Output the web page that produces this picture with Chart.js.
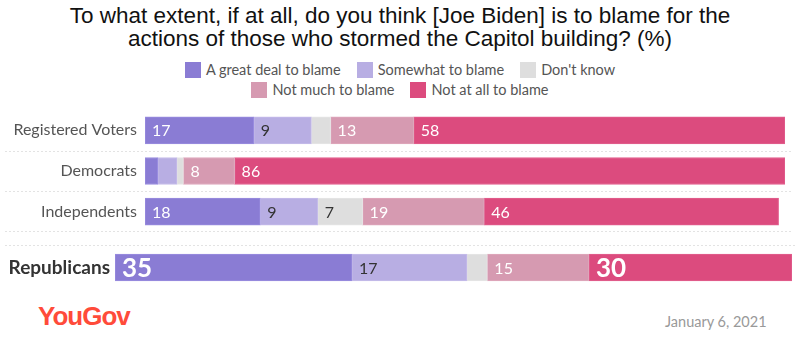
<!DOCTYPE html>
<html>
<head>
<meta charset="utf-8">
<script src="https://cdn.jsdelivr.net/npm/chart.js@4/dist/chart.umd.min.js"></script>
<style>
  body { margin: 0; background: #fff; }
  #wrap { position: relative; width: 800px; height: 350px; overflow: hidden; font-family: Lato, sans-serif; }
  #title { position: absolute; top: 4px; left: 0; width: 800px; text-align: center; font: 22.5px/23px "Liberation Sans", Arial, sans-serif; color: #111; }
  #legend { position: absolute; top: 61px; left: 140px; width: 520px; display: flex; flex-wrap: wrap; justify-content: center; font-size: 14.5px; color: #555; row-gap: 3px; }
  .item { display: flex; align-items: center; margin: 0 8px; line-height: 17px; }
  .box { width: 16px; height: 16px; margin-right: 5px; }
  #c1 { position: absolute; top: 110px; left: 0; }
  #c2 { position: absolute; top: 240px; left: 0; }
  #logo { position: absolute; top: 301px; left: 38px; font: bold 26px "Liberation Sans", Arial, sans-serif; color: #ff4b3a; letter-spacing: -1px; }
  #date { position: absolute; top: 313px; left: 665px; font-size: 14.5px; color: #999; }
</style>
</head>
<body>
<div id="wrap">
  <div id="title">To what extent, if at all, do you think [Joe Biden] is to blame for the<br>actions of those who stormed the Capitol building? (%)</div>
  <div id="legend"></div>
  <canvas id="c1" width="800" height="122"></canvas>
  <canvas id="c2" width="800" height="50"></canvas>
  <div id="logo">YouGov</div>
  <div id="date">January 6, 2021</div>
</div>
<script>
const groups = ['Registered Voters', 'Democrats', 'Independents'];
const seriesNames = ['A great deal to blame', 'Somewhat to blame', "Don't know", 'Not much to blame', 'Not at all to blame'];
const greatDeal = [17, 2, 18];
const somewhat = [9, 3, 9];
const dontKnow = [3, 1, 7];
const notMuch = [13, 8, 19];
const notAtAll = [58, 86, 46];
const repLabel = ['Republicans'];
const repValues = [35, 17, 3, 15, 30];

const colors = ['#8a7cd4', '#b8aee3', '#dedede', '#d69ab1', '#dc4b7e'];
const borders = ['#9a8ee0', '#c6bdea', '#e6e6e6', '#dfa9bd', '#e2608f'];
const labelColors = ['#fff', '#333', '#333', '#fff', '#fff'];

// html legend
const legend = document.getElementById('legend');
seriesNames.forEach((name, i) => {
  const el = document.createElement('div');
  el.className = 'item';
  el.innerHTML = '<span class="box" style="background:' + colors[i] + '"></span>' + name;
  legend.appendChild(el);
});

const valueLabels = {
  id: 'valueLabels',
  afterDatasetsDraw(chart) {
    const ctx = chart.ctx;
    const big = chart.options.bigLabels;
    chart.data.datasets.forEach((ds, i) => {
      chart.getDatasetMeta(i).data.forEach((bar, j) => {
        const v = ds.data[j];
        if (v < 5) return;
        const bold = big && (i === 0 || i === 4);
        ctx.save();
        ctx.font = bold ? 'bold 26px Lato' : '16px Lato';
        ctx.fillStyle = labelColors[i];
        ctx.textBaseline = 'middle';
        ctx.fillText(v, Math.min(bar.base, bar.x) + 7, bar.y + 1);
        ctx.restore();
      });
    });
  }
};

// dotted separators between rows, running under the labels too
const rowLines = {
  id: 'rowLines',
  beforeDatasetsDraw(chart) {
    const ctx = chart.ctx;
    const y = chart.scales.y;
    const area = chart.chartArea;
    const ys = [];
    if (chart.options.topLine) {
      ys.push(area.top + 0.5);
    } else {
      for (let i = 1; i < y.ticks.length; i++) {
        ys.push(Math.round((y.getPixelForValue(i - 1) + y.getPixelForValue(i)) / 2) + 0.5);
      }
      ys.push(area.bottom - 0.5);
    }
    ctx.save();
    ctx.strokeStyle = '#e3e3e3';
    ctx.setLineDash([2, 2]);
    ctx.lineWidth = 1;
    ys.forEach(py => {
      ctx.beginPath();
      ctx.moveTo(5, py);
      ctx.lineTo(chart.options.lineEnd, py);
      ctx.stroke();
    });
    ctx.restore();
  }
};

function makeDatasets(rows) {
  return seriesNames.map((name, i) => ({
    label: name,
    data: rows[i],
    backgroundColor: colors[i],
    borderColor: borders[i],
    borderWidth: 1,
    borderSkipped: false,
    barThickness: 27,
  }));
}

function yAxis(width, font, color) {
  return {
    stacked: true,
    grid: { display: false, drawTicks: false },
    border: { display: false },
    ticks: { color, font, padding: width === 145 ? 8 : 5 },
    afterFit(scale) {
      scale.width = width;
      scale.paddingTop = 0;
      scale.paddingBottom = 0;
    },
  };
}

new Chart(document.getElementById('c1'), {
  type: 'bar',
  data: {
    labels: groups,
    datasets: makeDatasets([greatDeal, somewhat, dontKnow, notMuch, notAtAll]),
  },
  plugins: [valueLabels, rowLines],
  options: {
    responsive: false,
    animation: false,
    indexAxis: 'y',
    lineEnd: 792,
    layout: { padding: { top: 0, bottom: 0, right: 15, left: 0 } },
    plugins: { legend: { display: false }, tooltip: { enabled: false } },
    scales: {
      x: { stacked: true, min: 0, max: 100, display: false },
      y: yAxis(145, { family: 'Lato', size: 16 }, '#555'),
    },
  },
});

new Chart(document.getElementById('c2'), {
  type: 'bar',
  data: {
    labels: repLabel,
    datasets: makeDatasets(repValues.map(v => [v])),
  },
  plugins: [valueLabels, rowLines],
  options: {
    responsive: false,
    animation: false,
    indexAxis: 'y',
    bigLabels: true,
    topLine: true,
    lineEnd: 796,
    layout: { padding: { top: 5, bottom: 0, right: 8, left: 0 } },
    plugins: { legend: { display: false }, tooltip: { enabled: false } },
    scales: {
      x: { stacked: true, min: 0, max: 100, display: false },
      y: yAxis(115, { family: 'Lato', size: 19, weight: 'bold' }, '#333'),
    },
  },
});
</script>
</body>
</html>
